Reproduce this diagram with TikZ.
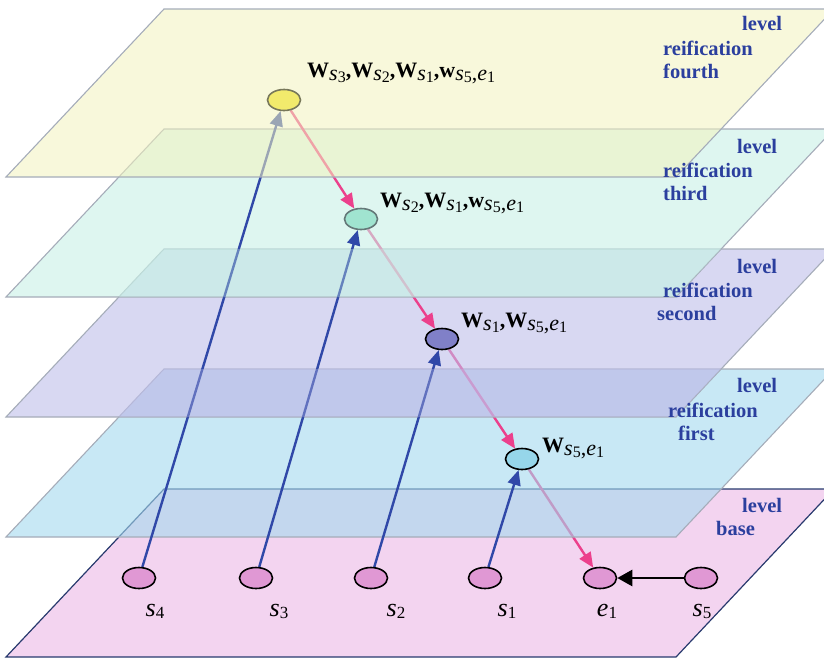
\documentclass[tikz,border=0pt]{standalone}
\usepackage{fontspec}
\setmainfont{Liberation Serif}
\usetikzlibrary{shapes.geometric,arrows.meta}
\definecolor{planeedge}{RGB}{165,172,185}
\definecolor{baseedge}{RGB}{40,58,110}
\definecolor{fourthc}{RGB}{243,243,190}
\definecolor{thirdc}{RGB}{200,240,230}
\definecolor{secondc}{RGB}{190,190,233}
\definecolor{firstc}{RGB}{163,217,238}
\definecolor{basec}{RGB}{243,212,240}
\definecolor{lvlc}{RGB}{43,63,158}
\definecolor{pinkc}{RGB}{236,64,140}
\definecolor{bluec}{RGB}{48,72,168}
\definecolor{nfourc}{RGB}{242,234,108}
\definecolor{nfourd}{RGB}{120,120,90}
\definecolor{nthreec}{RGB}{160,228,208}
\definecolor{nthreed}{RGB}{100,120,120}
\definecolor{ntwoc}{RGB}{128,128,200}
\definecolor{nonec}{RGB}{150,214,234}
\definecolor{nbasec}{RGB}{224,152,212}
\pgfdeclarelayer{la}\pgfdeclarelayer{lb}\pgfdeclarelayer{lc}\pgfdeclarelayer{ld}
\pgfdeclarelayer{le}\pgfdeclarelayer{lf}\pgfdeclarelayer{lg}\pgfdeclarelayer{lh}
\pgfdeclarelayer{li}\pgfdeclarelayer{lj}\pgfdeclarelayer{lk}
\pgfsetlayers{la,lb,lc,ld,le,lf,lg,lh,li,lj,lk,main}
\newcommand\Sb[2]{\raisebox{-3pt}{\itshape #1}\raisebox{-5pt}{\fontsize{16}{16}\selectfont #2}}
\newcommand\Bs[1]{s\raisebox{-2pt}{\fontsize{17}{17}\selectfont\upshape #1}}
\newcommand\planepath[1]{(164,#1) -- ++(670,0) -- ++(-158,168) -- ++(-670,0) -- cycle}
\newcommand\bandpath[1]{(164,#1) -- (721.1,#1) -- (676,#1+48) -- (118.9,#1+48) -- cycle}
\begin{document}
\begin{tikzpicture}[x=1pt,y=-1pt,
  nd/.style={ellipse, minimum width=33pt, minimum height=21pt, inner sep=0pt, line width=1.6pt, draw=black},
  plane/.style={draw=planeedge, line width=1.1pt, fill opacity=0.6},
  pinkarr/.style={draw=pinkc, fill=pinkc, line width=2.4pt, -{Triangle[length=15pt,width=13pt]}},
  bluearr/.style={draw=bluec, fill=bluec, line width=2.4pt, -{Triangle[length=15pt,width=13pt]}},
  lvl/.style={text=lvlc, font=\fontsize{20.5}{20.5}\selectfont\bfseries, anchor=base west, inner sep=0pt},
  wlab/.style={anchor=base west, inner sep=0pt, font=\fontsize{22}{22}\selectfont},
  blab/.style={anchor=base, inner sep=0pt, font=\fontsize{26}{26}\selectfont\itshape}]
\useasboundingbox (0,0) rectangle (824,659);
% nodes
\node[nd, fill=nfourc, draw=nfourd] (n4) at (284,100) {};
\node[nd, fill=nthreec, draw=nthreed] (n3) at (361,219) {};
\node[nd, fill=ntwoc] (n2) at (442,339) {};
\node[nd, fill=nonec] (n1) at (522,459) {};
\node[nd, fill=nbasec] (s4) at (139,578) {};
\node[nd, fill=nbasec] (s3) at (256,578) {};
\node[nd, fill=nbasec] (s2) at (371,578) {};
\node[nd, fill=nbasec] (s1) at (485,578) {};
\node[nd, fill=nbasec] (e1) at (600,578) {};
\node[nd, fill=nbasec] (s5) at (701,578) {};
% labels
\node[wlab] (l4) at (307,77) {\textbf{W}\Sb{s}{3}\textbf{,W}\Sb{s}{2}\textbf{,W}\Sb{s}{1}\textbf{,w}\Sb{s}{5}\raisebox{-3pt}{,}\Sb{e}{1}};
\node[wlab] (l3) at (380,207) {\textbf{W}\Sb{s}{2}\textbf{,W}\Sb{s}{1}\textbf{,w}\Sb{s}{5}\raisebox{-3pt}{,}\Sb{e}{1}};
\node[wlab] (l2) at (461,327) {\textbf{W}\Sb{s}{1}\textbf{,W}\Sb{s}{5}\raisebox{-3pt}{,}\Sb{e}{1}};
\node[wlab] (l1) at (542,452) {\textbf{W}\Sb{s}{5}\raisebox{-3pt}{,}\Sb{e}{1}};
\node[blab] (ts4) at (155,616) {\Bs{4}};
\node[blab] (ts3) at (279,616) {\Bs{3}};
\node[blab] (ts2) at (396,616) {\Bs{2}};
\node[blab] (ts1) at (507,616) {\Bs{1}};
\node[blab] (te1) at (607,616) {e\raisebox{-2pt}{\fontsize{17}{17}\selectfont\upshape 1}};
\node[blab] (ts5) at (702,616) {\Bs{5}};
% level texts
\node[lvl] (a1) at (742,30) {level};
\node[lvl] (a2) at (663,55) {reification};
\node[lvl] (a3) at (663,78) {fourth};
\node[lvl] (b1) at (737,153) {level};
\node[lvl] (b2) at (663,177) {reification};
\node[lvl] (b3) at (663,200) {third};
\node[lvl] (c1) at (737,273) {level};
\node[lvl] (c2) at (663,297) {reification};
\node[lvl] (c3) at (657,320) {second};
\node[lvl] (d1) at (737,392) {level};
\node[lvl] (d2) at (668,417) {reification};
\node[lvl] (d3) at (678,440) {first};
\node[lvl] (f1) at (742,512) {level};
\node[lvl] (f2) at (716,535) {base};
% planes and connectors in layers
\begin{pgfonlayer}{la}
\draw[fill=basec, draw=baseedge, line width=1.2pt] \planepath{489};
\end{pgfonlayer}
\begin{pgfonlayer}{lb}
\draw[pinkarr] (n1) -- (e1);
\end{pgfonlayer}
\begin{pgfonlayer}{lc}
\draw[plane, fill=firstc] \planepath{369};
\end{pgfonlayer}
\begin{pgfonlayer}{ld}
\draw[pinkarr] (n2) -- (n1);
\end{pgfonlayer}
\begin{pgfonlayer}{le}
\draw[plane, fill=secondc] \planepath{249};
\end{pgfonlayer}
\begin{pgfonlayer}{lf}
\draw[pinkarr] (n3) -- (n2);
\end{pgfonlayer}
\begin{pgfonlayer}{lg}
\draw[plane, fill=thirdc] \planepath{129};
\end{pgfonlayer}
\begin{pgfonlayer}{lh}
\draw[bluearr] (s1) -- (n1);
\draw[bluearr] (s2) -- (n2);
\draw[bluearr] (s3) -- (n3);
\draw[bluearr] (s4) -- (n4);
\draw[line width=2.6pt, -{Triangle[length=15pt,width=16pt]}] (s5) -- (e1);
\end{pgfonlayer}
\begin{pgfonlayer}{li}
\fill[secondc, fill opacity=0.35] \bandpath{369};
\fill[thirdc, fill opacity=0.35] \bandpath{249};
\end{pgfonlayer}
\begin{pgfonlayer}{lj}
\draw[pinkarr] (n4) -- (n3);
\end{pgfonlayer}
\begin{pgfonlayer}{lk}
\draw[plane, fill=fourthc, fill opacity=0.55] \planepath{9};
\end{pgfonlayer}
\end{tikzpicture}
\end{document}
